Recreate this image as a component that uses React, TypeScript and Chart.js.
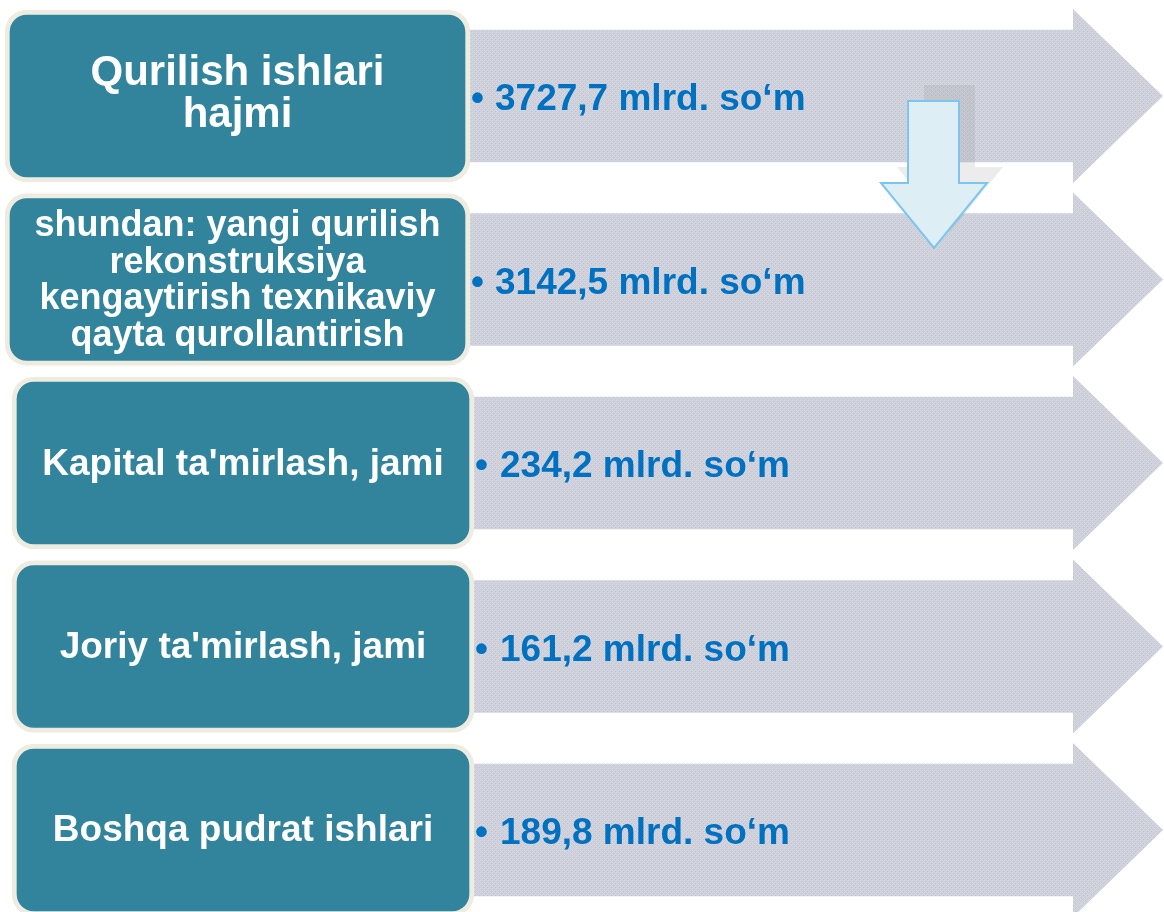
import React, { useEffect, useRef } from "react";
import { Chart, registerables } from "chart.js";

Chart.register(...registerables);

// ---------- DATA ----------
const categories = [
  "Qurilish ishlari hajmi",
  "shundan: yangi qurilish rekonstruksiya kengaytirish texnikaviy qayta qurollantirish",
  "Kapital ta'mirlash, jami",
  "Joriy ta'mirlash, jami",
  "Boshqa pudrat ishlari",
];
const labelLines = [
  ["Qurilish ishlari", "hajmi"],
  ["shundan: yangi qurilish", "rekonstruksiya", "kengaytirish texnikaviy", "qayta qurollantirish"],
  ["Kapital ta'mirlash, jami"],
  ["Joriy ta'mirlash, jami"],
  ["Boshqa pudrat ishlari"],
];
const values = [3727.7, 3142.5, 234.2, 161.2, 189.8];
const unit = "mlrd. so\u2018m";

// ---------- LAYOUT (positions / sizes, not data) ----------
const W = 1164;
const H = 912;
const ROW_PITCH = 183.5;
const FIRST_ROW = 96;
const Y_MIN = -FIRST_ROW / ROW_PITCH;
const Y_MAX = Y_MIN + H / ROW_PITCH;
const BOX_START = [5, 5, 12, 12, 12];
const BOX_END = [470, 470, 474, 474, 474];
const BOX_THICK = 172;
const SHAFT_START = 462;
const SHAFT_END = 1074;
const SHAFT_THICK = 132;
const HEAD_TIP = 1163;
const HEAD_HALF = 87;
const LABEL_SIZE = [42, 36, 37, 37, 37];
const LABEL_PITCH = [42, 36.5, 0, 0, 0];
const LABEL_DY = [-5, -1.5, -1.5, -1.5, -2];
const VALUE_SIZE = 37;
const BULLET_X = [471, 471, 475, 475, 475];
const VALUE_X = [495, 495, 500, 500, 500];
const FONT = 'Arial, "Liberation Sans", sans-serif';
// down arrow (x in x-units, y in row units)
const DA = { sx0: 908, sx1: 959, hx0: 881, hx1: 987, tipX: 934, top: 0.027, headY: 0.474, tipY: 0.828 };
const DA_SHADOW = { dx: 16, dy: -16 };

function makePattern(ctx: CanvasRenderingContext2D): CanvasPattern | string {
  const c = document.createElement("canvas");
  c.width = 4;
  c.height = 4;
  const p = c.getContext("2d");
  if (!p) return "#CDD0DA";
  p.fillStyle = "#C9CCD6";
  p.fillRect(0, 0, 4, 4);
  p.fillStyle = "#D7DAE2";
  p.fillRect(0, 0, 1, 1);
  p.fillRect(2, 2, 1, 1);
  p.fillRect(2, 0, 1, 1);
  p.fillRect(0, 2, 1, 1);
  p.fillRect(1, 3, 1, 1);
  p.fillRect(3, 1, 1, 1);
  return ctx.createPattern(c, "repeat") || "#CDD0DA";
}

export default function App() {
  const ref = useRef<HTMLCanvasElement | null>(null);

  useEffect(() => {
    const canvas = ref.current;
    if (!canvas) return;
    const ctx0 = canvas.getContext("2d");
    if (!ctx0) return;
    const pattern = makePattern(ctx0);

    const infographic = {
      id: "infographic",
      afterDatasetDraw(chart: any, args: any) {
        if (args.index !== 0) return;
        const ctx = chart.ctx;
        const xs = chart.scales.x;
        const meta = chart.getDatasetMeta(0);
        ctx.save();
        ctx.fillStyle = pattern;
        meta.data.forEach((el: any) => {
          const x0 = el.x - 1;
          ctx.beginPath();
          ctx.moveTo(x0, el.y - HEAD_HALF);
          ctx.lineTo(xs.getPixelForValue(HEAD_TIP), el.y);
          ctx.lineTo(x0, el.y + HEAD_HALF);
          ctx.closePath();
          ctx.fill();
        });
        ctx.restore();
      },
      afterDatasetsDraw(chart: any) {
        const ctx = chart.ctx;
        const xs = chart.scales.x;
        const ys = chart.scales.y;
        const boxMeta = chart.getDatasetMeta(1);
        ctx.save();
        // labels
        ctx.fillStyle = "#FFFFFF";
        ctx.textAlign = "center";
        ctx.textBaseline = "alphabetic";
        boxMeta.data.forEach((el: any, i: number) => {
          const lines = labelLines[i];
          const size = LABEL_SIZE[i];
          ctx.font = `bold ${size}px ${FONT}`;
          const cx = (el.x + el.base) / 2;
          const cc = el.y + LABEL_DY[i];
          const n = lines.length;
          lines.forEach((ln, k) => {
            const by = cc + (k - (n - 1) / 2) * LABEL_PITCH[i] + (0.716 * size) / 2;
            ctx.fillText(ln, cx, by);
          });
        });
        // values
        ctx.fillStyle = "#0070C0";
        ctx.textAlign = "left";
        ctx.font = `bold ${VALUE_SIZE}px ${FONT}`;
        values.forEach((v, i) => {
          const y = ys.getPixelForValue(i) + 1 + (0.716 * VALUE_SIZE) / 2;
          ctx.fillText("\u2022", xs.getPixelForValue(BULLET_X[i]), y);
          const txt = v.toFixed(1).replace(".", ",") + " " + unit;
          ctx.fillText(txt, xs.getPixelForValue(VALUE_X[i]), y);
        });
        // down arrow
        const pts = (dx: number, dy: number) => [
          [xs.getPixelForValue(DA.sx0) + dx, ys.getPixelForValue(DA.top) + dy],
          [xs.getPixelForValue(DA.sx1) + dx, ys.getPixelForValue(DA.top) + dy],
          [xs.getPixelForValue(DA.sx1) + dx, ys.getPixelForValue(DA.headY) + dy],
          [xs.getPixelForValue(DA.hx1) + dx, ys.getPixelForValue(DA.headY) + dy],
          [xs.getPixelForValue(DA.tipX) + dx, ys.getPixelForValue(DA.tipY) + dy],
          [xs.getPixelForValue(DA.hx0) + dx, ys.getPixelForValue(DA.headY) + dy],
          [xs.getPixelForValue(DA.sx0) + dx, ys.getPixelForValue(DA.headY) + dy],
        ];
        const poly = (p: number[][]) => {
          ctx.beginPath();
          p.forEach(([px, py], k) => (k === 0 ? ctx.moveTo(px, py) : ctx.lineTo(px, py)));
          ctx.closePath();
        };
        poly(pts(DA_SHADOW.dx, DA_SHADOW.dy));
        ctx.fillStyle = "rgba(120,120,130,0.14)";
        ctx.fill();
        poly(pts(0, 0));
        ctx.fillStyle = "#DDEEF4";
        ctx.fill();
        ctx.strokeStyle = "#7DC5EE";
        ctx.lineWidth = 2;
        ctx.lineJoin = "miter";
        ctx.stroke();
        ctx.restore();
      },
    };

    const chart = new Chart(canvas, {
      type: "bar",
      data: {
        labels: categories,
        datasets: [
          {
            label: "arrow",
            data: categories.map((_, i) => ({ x: [SHAFT_START, SHAFT_END], y: i })) as any,
            backgroundColor: pattern as any,
            borderWidth: 0,
            barThickness: SHAFT_THICK,
            grouped: false,
            order: 2,
          },
          {
            label: "box",
            data: categories.map((_, i) => ({ x: [BOX_START[i], BOX_END[i]], y: i })) as any,
            backgroundColor: "#31849B",
            borderColor: "#EEECE1",
            borderWidth: 5,
            borderRadius: 22,
            borderSkipped: false,
            barThickness: BOX_THICK,
            grouped: false,
            order: 1,
          },
        ],
      },
      options: {
        indexAxis: "y",
        responsive: false,
        maintainAspectRatio: false,
        animation: false,
        events: [],
        layout: { padding: 0 },
        plugins: { legend: { display: false }, tooltip: { enabled: false } },
        scales: {
          x: { type: "linear", min: 0, max: W, display: false, offset: false },
          y: { type: "linear", min: Y_MIN, max: Y_MAX, reverse: true, display: false, offset: false },
        },
      } as any,
      plugins: [infographic as any],
    });
    return () => chart.destroy();
  }, []);

  return (
    <div style={{ position: "fixed", left: 0, top: 0, width: W, height: H, background: "#FFFFFF" }}>
      <canvas ref={ref} width={W} height={H} style={{ display: "block", width: W, height: H }} />
    </div>
  );
}
